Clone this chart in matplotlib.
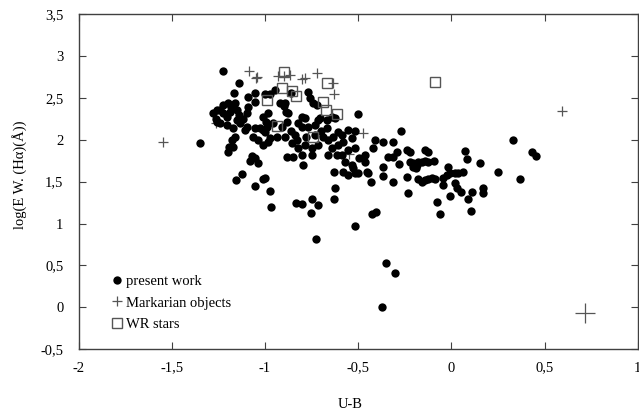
import matplotlib
matplotlib.use("Agg")
import matplotlib.pyplot as plt
from matplotlib.ticker import FuncFormatter

plt.rcParams['font.family'] = ['Liberation Serif', 'DejaVu Serif']

# present work (U-B, log EW(Halpha))
present_x = [
    -1.348, -1.223, -1.137, -1.164, -1.089, -1.053, -0.999, -1.053,
    -1.196, -1.223, -1.259, -1.277, -1.223, -1.187, -1.160, -1.151,
    -1.089, -1.098, -1.259, -1.205, -1.205, -1.151, -1.134, -1.170,
    -1.098, -1.107, -1.053, -1.026, -1.009, -0.990, -1.009, -0.994,
    -1.160, -1.178, -1.191, -1.196, -1.170, -1.062, -1.035, -1.009, -0.982,
    -1.24, -1.265, -1.14, -1.12, -1.24, -1.18,
    -0.946, -0.973, -0.767, -0.758, -0.740, -0.722,
    -0.919, -0.892, -0.888, -0.874, -0.883, -0.910, -0.982, -1.000,
    -0.803, -0.785, -0.821, -0.803, -0.713, -0.731, -0.704, -0.668, -0.642, -0.624,
    -0.502, -0.553, -0.517, -0.409, -0.365, -0.311,
    -0.973, -0.937, -0.892, -0.856, -0.830, -0.821, -0.785, -0.749, -0.713,
    -0.687, -0.660, -0.642, -0.606, -0.579, -0.553, -0.517, -0.463, -0.418,
    -0.858, -0.90, -0.665, -0.608, -0.589, -0.838, -0.781, -0.733, -0.636,
    -0.531, -0.77, -0.955, -0.86, -0.70,
    -0.973, -0.969, -0.835, -0.803, -0.749, -0.713, -0.753, -0.727,
    -0.628, -0.624, -0.628, -0.517, -0.427, -0.406,
    -0.365, -0.365, -0.338, -0.314, -0.314, -0.432, -0.454, -0.445,
    -0.579, -0.553, -0.517, -0.499, -0.570, -0.534, -0.494, -0.463, -0.526,
    -0.883, -0.848, -0.803, -0.794, -0.749, -0.660, -0.615, -0.588, -0.999,
    -1.071, -1.053, -1.035, -1.080, -1.124, -1.155, -1.053, -1.009,
    -0.270, -0.293, -0.281, -0.239, -0.234,
    -0.239, -0.222, -0.141, -0.127,
    -0.222, -0.204, -0.186, -0.177, -0.159, -0.141, -0.123, -0.091,
    -0.204, -0.191,
    -0.177, -0.159, -0.141, -0.123, -0.105, -0.087,
    -0.043, -0.025, -0.007, -0.016, 0.020, 0.038, 0.064, 0.073, 0.083, 0.154, 0.252,
    -0.043, 0.020, 0.029, 0.052, -0.007, 0.113, 0.091, 0.172, 0.172, -0.078, -0.061, 0.106,
    0.330, -0.350, -0.302, -0.373, 0.431, 0.453, 0.369,
]
present_y = [
    1.958, 2.821, 2.674, 2.563, 2.514, 2.555, 2.547, 2.455,
    2.436, 2.415, 2.355, 2.316, 2.316, 2.335, 2.436, 2.355,
    2.395, 2.316, 2.216, 2.276, 2.176, 2.236, 2.197, 2.137,
    2.156, 2.116, 2.137, 2.137, 2.116, 2.156, 2.276, 2.216,
    2.037, 1.997, 1.910, 1.857, 1.917, 2.037, 1.997, 1.937, 1.977,
    2.36, 2.25, 2.30, 2.25, 2.20, 2.39,
    2.594, 2.543, 2.574, 2.495, 2.436, 2.415,
    2.436, 2.436, 2.335, 2.316, 2.216, 2.156, 2.316, 2.097,
    2.276, 2.256, 2.197, 2.156, 2.236, 2.176, 2.256, 2.236, 2.276, 2.256,
    2.308, 2.116, 2.108, 1.997, 1.977, 1.977,
    2.017, 2.037, 2.037, 1.957, 1.997, 1.898, 1.937, 1.898, 1.937,
    2.037, 1.997, 1.898, 1.937, 1.977, 1.878, 1.898, 1.818, 1.898,
    2.56, 2.40, 2.14, 2.097, 2.057, 2.057, 2.037, 2.057, 2.037,
    2.017, 2.15, 2.20, 2.10, 2.10,
    1.388, 1.193, 1.248, 1.232, 1.292, 1.220, 1.121, 0.814,
    1.618, 1.427, 1.292, 0.970, 1.113, 1.140,
    1.678, 1.571, 1.790, 1.798, 1.499, 1.491, 1.618, 1.599,
    1.618, 1.579, 1.599, 1.599, 1.738, 1.698, 1.778, 1.738, 1.659,
    1.798, 1.798, 1.818, 1.698, 1.818, 1.818, 1.818, 1.818, 1.539,
    1.806, 1.778, 1.726, 1.750, 1.591, 1.519, 1.447, 1.531,
    2.108, 1.857, 1.710, 1.551, 1.360,
    1.878, 1.857, 1.878, 1.850,
    1.738, 1.726, 1.698, 1.738, 1.738, 1.750, 1.738, 1.750,
    1.676, 1.658,
    1.527, 1.499, 1.519, 1.527, 1.539, 1.527,
    1.539, 1.579, 1.599, 1.678, 1.607, 1.599, 1.618, 1.869, 1.770, 1.718, 1.611,
    1.459, 1.480, 1.420, 1.379, 1.328, 1.379, 1.292, 1.420, 1.360, 1.253, 1.113, 1.149,
    1.997, 0.531, 0.412, -0.002, 1.857, 1.806, 1.527,
]

# Markarian objects
mrk_x = [-1.545, -1.084, -1.049, -1.044, -0.928, -0.896, -0.865, -0.803, -0.785,
         -0.722, -0.636, -0.629, -0.475, 0.592, -1.261, -0.55]
mrk_y = [1.977, 2.821, 2.734, 2.745, 2.762, 2.76, 2.774, 2.722, 2.734,
         2.794, 2.674, 2.543, 2.077, 2.347, 2.196, 1.83]
mrk_big_x = [0.719]
mrk_big_y = [-0.074]

# WR stars
wr_x = [-0.896, -0.907, -0.853, -0.833, -0.668, -0.687, -0.672, -0.615,
        -0.937, -0.740, -0.990, -0.088]
wr_y = [2.813, 2.615, 2.586, 2.523, 2.682, 2.455, 2.355, 2.308,
        2.164, 2.029, 2.475, 2.694]

xticks = [-2, -1.5, -1, -0.5, 0, 0.5, 1]
yticks = [-0.5, 0, 0.5, 1, 1.5, 2, 2.5, 3, 3.5]

fig = plt.figure(figsize=(6.39, 4.15), dpi=100)
ax = fig.add_axes([0.123, 0.159, 0.875, 0.8065])

gray = '#555555'
ax.plot(mrk_x, mrk_y, linestyle='none', marker='+', markersize=7,
        markeredgewidth=0.9, color=gray, zorder=2, label='Markarian objects')
ax.plot(mrk_big_x, mrk_big_y, linestyle='none', marker='+', markersize=15,
        markeredgewidth=0.9, color=gray, zorder=2)
ax.plot(present_x, present_y, linestyle='none', marker='o', markersize=6.0,
        color='black', markeredgewidth=0, zorder=3, label='present work')
ax.plot(wr_x, wr_y, linestyle='none', marker='s', markersize=7.5,
        markerfacecolor='none', markeredgecolor=gray, markeredgewidth=1.0,
        zorder=4, label='WR stars')

ax.set_xlim(-2, 1)
ax.set_ylim(-0.5, 3.5)
ax.set_xticks(xticks)
ax.set_yticks(yticks)
fmt = FuncFormatter(lambda v, p: ('%g' % v).replace('.', ','))
ax.xaxis.set_major_formatter(fmt)
ax.yaxis.set_major_formatter(fmt)

spine_c = '#404040'
for s in ax.spines.values():
    s.set_color(spine_c)
    s.set_linewidth(1.0)
ax.tick_params(direction='in', length=5, width=0.8, color=spine_c,
               top=True, right=True, labelsize=10.5, labelcolor='black')
ax.tick_params(axis='x', pad=9)
ax.tick_params(axis='y', pad=11)

ax.set_xlabel('U-B', fontsize=10.5)
ax.xaxis.set_label_coords(0.485, -0.145)
ax.set_ylabel('log(E W. (Hα)(Å))', fontsize=10.5)
ax.yaxis.set_label_coords(-0.092, 0.52)

h, l = ax.get_legend_handles_labels()
order = [l.index('present work'), l.index('Markarian objects'), l.index('WR stars')]
leg = ax.legend([h[i] for i in order], [l[i] for i in order], loc='lower left',
                bbox_to_anchor=(0.05, 0.037), frameon=False, fontsize=10.5,
                handlelength=0.6, handletextpad=0.3, labelspacing=0.55,
                borderaxespad=0)

fig.savefig('out.png', dpi=100)
